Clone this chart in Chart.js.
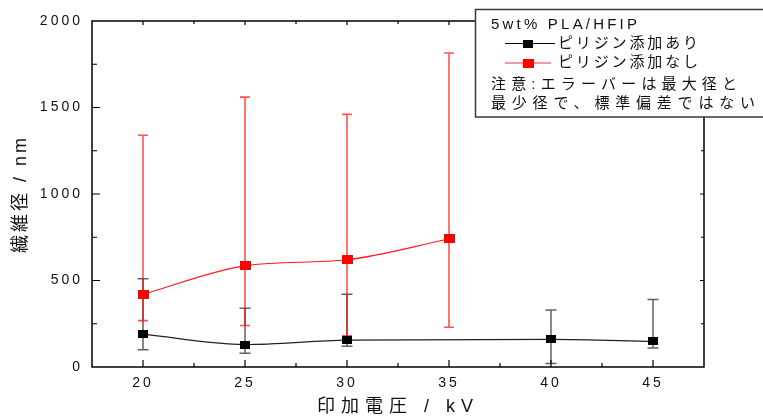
<!DOCTYPE html>
<html>
<head>
<meta charset="utf-8">
<script src="https://cdn.jsdelivr.net/npm/chart.js@4/dist/chart.umd.min.js"></script>
<style>
  html, body { margin: 0; padding: 0; background: #fff; }
  #wrap { width: 763px; height: 419px; }
</style>
</head>
<body>
<div id="wrap"><canvas id="c" width="763" height="419"></canvas></div>
<script>
// Fibre diameter (nm) against applied voltage (kV), 5wt% PLA in HFIP
const voltageWith = [20, 25, 30, 40, 45];
const diameterWith = [190, 130, 155, 160, 148];
const minWith = [100, 80, 120, 20, 110];
const maxWith = [510, 340, 420, 330, 390];

const voltageWithout = [20, 25, 30, 35];
const diameterWithout = [420, 585, 620, 740];
const minWithout = [268, 240, 180, 230];
const maxWithout = [1340, 1560, 1460, 1815];

const xTicks = [20, 25, 30, 35, 40, 45];
const yTicks = [0, 500, 1000, 1500, 2000];

const legendTitle = '5wt% PLA/HFIP';
const seriesNames = ['ピリジン添加あり', 'ピリジン添加なし'];
const noteLines = ['注意:エラーバーは最大径と', '最少径で、標準偏差ではない'];
const xTitle = '印加電圧 / kV';
const yTitle = '繊維径 / nm';

const FONT = "'Liberation Sans', 'Noto Sans CJK JP', sans-serif";
const INK = '#111';

function squareMarker(color, w, h) {
  const c = document.createElement('canvas');
  c.width = w; c.height = h;
  const g = c.getContext('2d');
  g.fillStyle = color;
  g.fillRect(0, 0, w, h);
  return c;
}
const blackMark = squareMarker('#000000', 10, 8);
const redMark = squareMarker('#ff0000', 11, 9);

function points(xs, ys) { return xs.map((x, i) => ({ x: x, y: ys[i] })); }

// spaced text: stretch a string to a given width via letter spacing
function spacedText(ctx, str, x, y, width) {
  ctx.letterSpacing = '0px';
  const w0 = ctx.measureText(str).width;
  const n = [...str].length;
  const s = n > 1 ? (width - w0) / (n - 1) : 0;
  ctx.letterSpacing = s + 'px';
  ctx.fillText(str, x, y);
  ctx.letterSpacing = '0px';
}

// letter spacing for library-drawn texts: ticks 3px, axis titles wider
const titleSpacing = { x: '6px', y: '3px' };
const spacingPlugin = {
  id: 'spacing',
  beforeDraw(chart) {
    chart.ctx.letterSpacing = '3px';
    Object.values(chart.scales).forEach((s) => {
      if (s._spacedTitle) return;
      const orig = s.drawTitle;
      s.drawTitle = function () {
        const prev = this.ctx.letterSpacing;
        this.ctx.letterSpacing = titleSpacing[this.id] || prev;
        orig.apply(this, arguments);
        this.ctx.letterSpacing = prev;
      };
      s._spacedTitle = true;
    });
  }
};

// box frame with inward major/minor ticks on all four sides, plus min–max bars
const framePlugin = {
  id: 'frame',
  beforeDatasetsDraw(chart) {
    const { ctx, chartArea: a, scales: { x, y } } = chart;
    ctx.save();
    ctx.strokeStyle = '#000';
    ctx.lineWidth = 1.5;
    ctx.strokeRect(a.left, a.top, a.right - a.left, a.bottom - a.top);
    ctx.lineWidth = 1.2;
    ctx.beginPath();
    xTicks.forEach((v) => {
      const px = x.getPixelForValue(v);
      ctx.moveTo(px, a.bottom); ctx.lineTo(px, a.bottom - 7);
      ctx.moveTo(px, a.top); ctx.lineTo(px, a.top + 4);
      if (v + 2.5 < x.max) {
        const m = x.getPixelForValue(v + 2.5);
        ctx.moveTo(m, a.bottom); ctx.lineTo(m, a.bottom - 4);
        ctx.moveTo(m, a.top); ctx.lineTo(m, a.top + 3);
      }
    });
    yTicks.forEach((v) => {
      const py = y.getPixelForValue(v);
      if (v > 0 && v < y.max) {
        ctx.moveTo(a.left, py); ctx.lineTo(a.left + 8, py);
        ctx.moveTo(a.right, py); ctx.lineTo(a.right - 4, py);
      }
      if (v + 250 < y.max) {
        const m = y.getPixelForValue(v + 250);
        ctx.moveTo(a.left, m); ctx.lineTo(a.left + 5, m);
        ctx.moveTo(a.right, m); ctx.lineTo(a.right - 3, m);
      }
    });
    ctx.stroke();

    const bars = [
      { xs: voltageWith, lo: minWith, hi: maxWith, color: 'rgba(0,0,0,0.62)', w: 1.5, cap: 5.5 },
      { xs: voltageWithout, lo: minWithout, hi: maxWithout, color: 'rgba(255,0,0,0.68)', w: 1.6, cap: 5 }
    ];
    bars.forEach((b) => {
      ctx.strokeStyle = b.color;
      ctx.lineWidth = b.w;
      b.xs.forEach((v, i) => {
        const px = x.getPixelForValue(v);
        const top = y.getPixelForValue(b.hi[i]);
        const bot = y.getPixelForValue(b.lo[i]);
        ctx.beginPath();
        ctx.moveTo(px, top); ctx.lineTo(px, bot);
        ctx.moveTo(px - b.cap, top); ctx.lineTo(px + b.cap, top);
        ctx.moveTo(px - b.cap, bot); ctx.lineTo(px + b.cap, bot);
        ctx.stroke();
      });
    });
    ctx.restore();
  }
};

// legend box in the top-right corner
const legendPlugin = {
  id: 'legendBox',
  afterDraw(chart) {
    const ctx = chart.ctx;
    ctx.save();
    ctx.fillStyle = '#fff';
    ctx.fillRect(475, 9, 300, 108);
    ctx.strokeStyle = '#3a3a3a';
    ctx.lineWidth = 1.5;
    ctx.beginPath();
    ctx.moveTo(770, 9.5); ctx.lineTo(475.5, 9.5); ctx.lineTo(475.5, 117); ctx.lineTo(770, 117);
    ctx.stroke();

    ctx.fillStyle = INK;
    ctx.textBaseline = 'middle';
    ctx.textAlign = 'left';
    ctx.font = '15px ' + FONT;
    spacedText(ctx, legendTitle, 491, 25, 146);

    const rows = [
      { y: 43.5, line: '#000', mark: blackMark, x1: 555 },
      { y: 63, line: '#ff3030', mark: redMark, x1: 551 }
    ];
    ctx.font = '15px ' + FONT;
    rows.forEach((r, i) => {
      ctx.strokeStyle = r.line;
      ctx.lineWidth = 1;
      ctx.beginPath();
      ctx.moveTo(505, r.y); ctx.lineTo(r.x1, r.y);
      ctx.stroke();
      ctx.drawImage(r.mark, Math.round(528 - r.mark.width / 2), Math.round(r.y - r.mark.height / 2));
      ctx.fillStyle = INK;
      spacedText(ctx, seriesNames[i], 558, r.y, 140);
    });
    spacedText(ctx, noteLines[0], 491, 85, 246);
    spacedText(ctx, noteLines[1], 491, 103.5, 264);
    ctx.restore();
  }
};

new Chart(document.getElementById('c'), {
  type: 'line',
  data: {
    datasets: [
      {
        label: seriesNames[0],
        data: points(voltageWith, diameterWith),
        borderColor: '#222',
        borderWidth: 1.2,
        pointStyle: blackMark,
        pointRadius: 5,
        cubicInterpolationMode: 'monotone',
        fill: false
      },
      {
        label: seriesNames[1],
        data: points(voltageWithout, diameterWithout),
        borderColor: '#ff1a1a',
        borderWidth: 1.2,
        pointStyle: redMark,
        pointRadius: 5,
        cubicInterpolationMode: 'monotone',
        fill: false
      }
    ]
  },
  options: {
    responsive: false,
    animation: false,
    devicePixelRatio: 1,
    layout: { padding: { top: 21, right: 59, left: 0, bottom: 0 } },
    plugins: { legend: { display: false }, tooltip: { enabled: false } },
    scales: {
      x: {
        type: 'linear',
        min: 17.5,
        max: 47.5,
        afterBuildTicks: (s) => { s.ticks = xTicks.map((v) => ({ value: v })); },
        afterFit: (s) => { s.height = 52; },
        grid: { display: false, drawTicks: false },
        border: { display: false },
        ticks: { color: INK, font: { family: FONT, size: 14 }, padding: 8, maxRotation: 0, autoSkip: false,
                 callback: (v) => String(v) },
        title: { display: true, text: xTitle, color: INK, font: { family: FONT, size: 18 }, padding: { top: 0, bottom: 1 } }
      },
      y: {
        type: 'linear',
        min: 0,
        max: 2000,
        afterBuildTicks: (s) => { s.ticks = yTicks.map((v) => ({ value: v })); },
        afterFit: (s) => { s.width = 92; },
        grid: { display: false, drawTicks: false },
        border: { display: false },
        ticks: { color: INK, font: { family: FONT, size: 14 }, padding: 9, callback: (v) => String(v) },
        title: { display: true, text: yTitle, color: INK, font: { family: FONT, size: 18 }, padding: { top: 10, bottom: 0 } }
      }
    }
  },
  plugins: [spacingPlugin, framePlugin, legendPlugin]
});
</script>
</body>
</html>
